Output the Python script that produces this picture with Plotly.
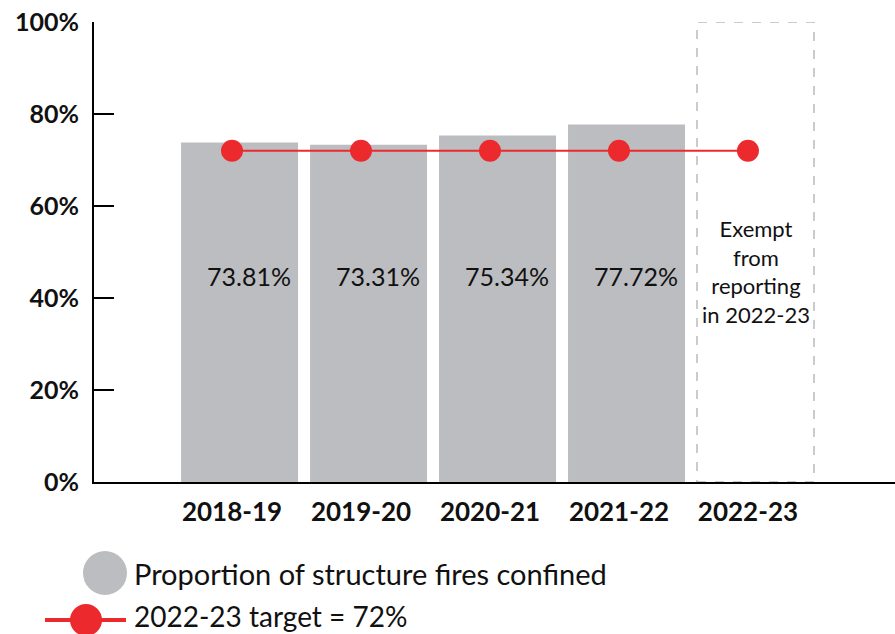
import plotly.graph_objects as go

# Reporting years and the share of structure fires confined to the room of origin
years = ["2018-19", "2019-20", "2020-21", "2021-22", "2022-23"]
confined_pct = [73.81, 73.31, 75.34, 77.72, None]
target_pct = [72, 72, 72, 72, 72]
y_ticks = [0, 20, 40, 60, 80, 100]
y_tick_text = ["0%", "20%", "40%", "60%", "80%", "100%"]
exempt_note = "Exempt<br>from<br>reporting<br>in 2022-23"
legend_bar_label = "Proportion of structure fires confined"
legend_line_label = "2022-23 target = 72%"

GREY = "#BCBDC0"
RED = "#EC2A2D"
FONT = "Lato"

# Canvas geometry (pixels)
W, H = 895, 634
ML, MR, MT, MB = 94, 0, 22, 152
PW, PH = W - ML - MR, H - MT - MB

# Bars sit slightly to the right of their category centre
BAR_OFFSET = -0.395
BAR_WIDTH = 0.907


def px(x):
    return (x - ML) / PW


def py(y):
    return (H - MB - y) / PH


fig = go.Figure()

fig.add_trace(go.Bar(
    x=years, y=confined_pct,
    marker=dict(color=GREY, line=dict(width=0)),
    width=BAR_WIDTH, offset=BAR_OFFSET,
    showlegend=False, hoverinfo="skip",
))

fig.add_trace(go.Scatter(
    x=years, y=target_pct, mode="lines+markers",
    line=dict(color=RED, width=2),
    marker=dict(color=RED, size=22),
    showlegend=False, hoverinfo="skip",
))

# Dashed outline for the exempt year
ex_idx = years.index("2022-23")
fig.add_shape(
    type="rect", xref="x", yref="y",
    x0=ex_idx + BAR_OFFSET, x1=ex_idx + BAR_OFFSET + BAR_WIDTH, y0=0, y1=100,
    line=dict(color="#BBBBBB", width=1.5, dash="dash"),
    fillcolor="rgba(0,0,0,0)", layer="below",
)

annotations = []
for yr, v in zip(years, confined_pct):
    if v is None:
        continue
    annotations.append(dict(
        x=yr, y=44.8, xref="x", yref="y", text=f"{v:.2f}%", xshift=17,
        showarrow=False, font=dict(family=FONT, size=25, color="#111111"),
    ))

annotations.append(dict(
    x=years[ex_idx], y=45.8, xref="x", yref="y", text=exempt_note, xshift=8,
    showarrow=False, align="center",
    font=dict(family=FONT, size=22, color="#111111"),
))

# Legend drawn by hand so the symbols can be large
fig.add_shape(type="circle", xref="paper", yref="paper",
              x0=px(83), x1=px(127), y0=py(595), y1=py(551),
              fillcolor=GREY, line=dict(width=0))
fig.add_shape(type="line", xref="paper", yref="paper",
              x0=px(45), x1=px(126), y0=py(620), y1=py(620),
              line=dict(color=RED, width=4))
fig.add_shape(type="circle", xref="paper", yref="paper",
              x0=px(70), x1=px(102), y0=py(636), y1=py(604),
              fillcolor=RED, line=dict(width=0))
annotations.append(dict(
    x=px(132), y=py(573), xref="paper", yref="paper", text=legend_bar_label,
    showarrow=False, xanchor="left", yanchor="middle",
    font=dict(family=FONT, size=29, color="#111111"),
))
annotations.append(dict(
    x=px(132), y=py(616), xref="paper", yref="paper", text=legend_line_label,
    showarrow=False, xanchor="left", yanchor="middle",
    font=dict(family=FONT, size=28, color="#111111"),
))

fig.update_layout(
    width=W, height=H,
    margin=dict(l=ML, r=MR, t=MT, b=MB),
    paper_bgcolor="white", plot_bgcolor="white",
    annotations=annotations,
    xaxis=dict(
        type="category", range=[-1.070, 5.140],
        showline=True, linecolor="black", linewidth=2,
        ticks="", showgrid=False, zeroline=False,
        tickfont=dict(family=FONT, size=26, color="#111111", weight="bold"),
        ticklabelstandoff=6,
    ),
    yaxis=dict(
        range=[0, 100], tickvals=y_ticks, ticktext=y_tick_text,
        showline=True, linecolor="black", linewidth=2,
        ticks="inside", ticklen=20, tickwidth=2, tickcolor="black",
        showgrid=False, zeroline=False,
        tickfont=dict(family=FONT, size=25, color="#111111", weight="bold"),
        ticklabelstandoff=8,
    ),
)

fig.write_html("out.html")
